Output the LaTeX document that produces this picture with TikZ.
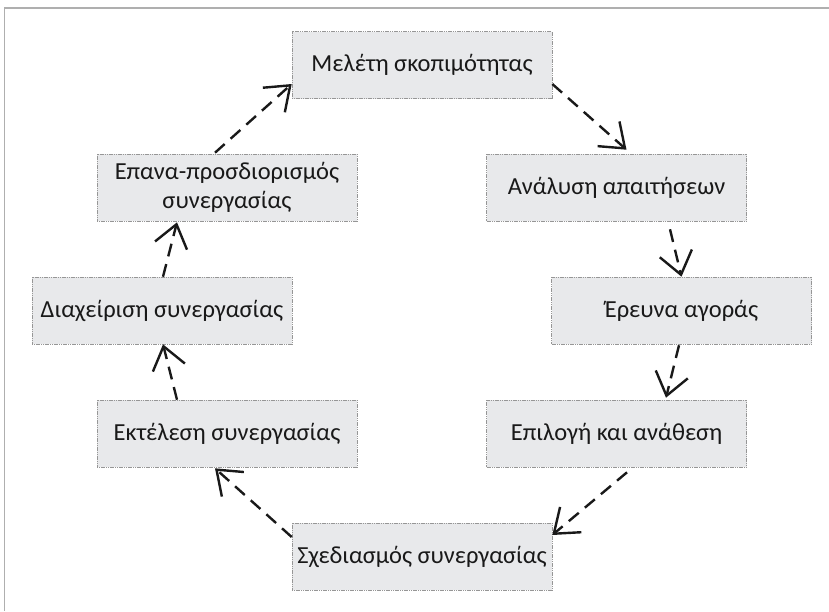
\documentclass[tikz,border=0pt]{standalone}
\usepackage{fontspec}
\setmainfont{Carlito}
\usetikzlibrary{arrows.meta,calc}
\definecolor{boxfill}{RGB}{232,233,235}
\definecolor{boxline}{RGB}{150,150,150}
\definecolor{txt}{RGB}{25,25,25}
\definecolor{arr}{RGB}{25,25,25}
\definecolor{frame}{RGB}{175,175,175}
\tikzset{
  stagebox/.style={rectangle, draw=boxline, line width=0.6pt, dash pattern=on 1.2pt off 0.6pt,
    fill=boxfill, minimum width=260pt, minimum height=67pt, inner sep=0pt,
    text=txt, align=center, font=\fontsize{24.5}{28.5}\selectfont},
  flow/.style={draw=arr, line width=2.4pt, dash pattern=on 13pt off 8pt,
    -{Straight Barb[length=22pt,width=33pt,line width=2.4pt]}}
}
\begin{document}
\begin{tikzpicture}[x=1pt,y=-1pt]
\useasboundingbox (0,0) rectangle (829,611);
\draw[frame, line width=1.2pt] (4.5,611) -- (4.5,8) -- (829,8);
\node[stagebox] (M) at (422,65) {Μελέτη σκοπιμότητας};
\node[stagebox] (A) at (616.5,187.5) {Ανάλυση απαιτήσεων};
\node[stagebox] (E) at (681.5,310.5) {Έρευνα αγοράς};
\node[stagebox] (P) at (616.5,433.5) {Επιλογή και ανάθεση};
\node[stagebox] (S) at (422,556.5) {Σχεδιασμός συνεργασίας};
\node[stagebox] (K) at (227,433.5) {Εκτέλεση συνεργασίας};
\node[stagebox] (D) at (162,310.5) {Διαχείριση συνεργασίας};
\node[stagebox] (R) at (227,187.5) {Επανα-προσδιορισμός\\συνεργασίας};
\draw[flow] ($(R.north)+(-12,-1)$) -- ($(M.west)+(0,19)$);
\draw[flow] ($(M.east)+(0,19)$) -- ($(A.north)+(10,-4)$);
\draw[flow] ($(A.south)+(53.5,8)$) -- ($(E.north)+(0,0)$);
\draw[flow] ($(E.south)+(-2.5,1)$) -- ($(P.north)+(49.5,-2)$);
\draw[flow] ($(P.south)+(10.5,5)$) -- ($(S.east)+(0,-21.5)$);
\draw[flow] ($(S.west)+(0,-19.5)$) -- ($(K.south)+(-12,1)$);
\draw[flow] ($(K.north)+(-50,0)$) -- ($(D.south)+(1,0)$);
\draw[flow] ($(D.north)+(1,0)$) -- ($(R.south)+(-50,1)$);
\end{tikzpicture}
\end{document}
